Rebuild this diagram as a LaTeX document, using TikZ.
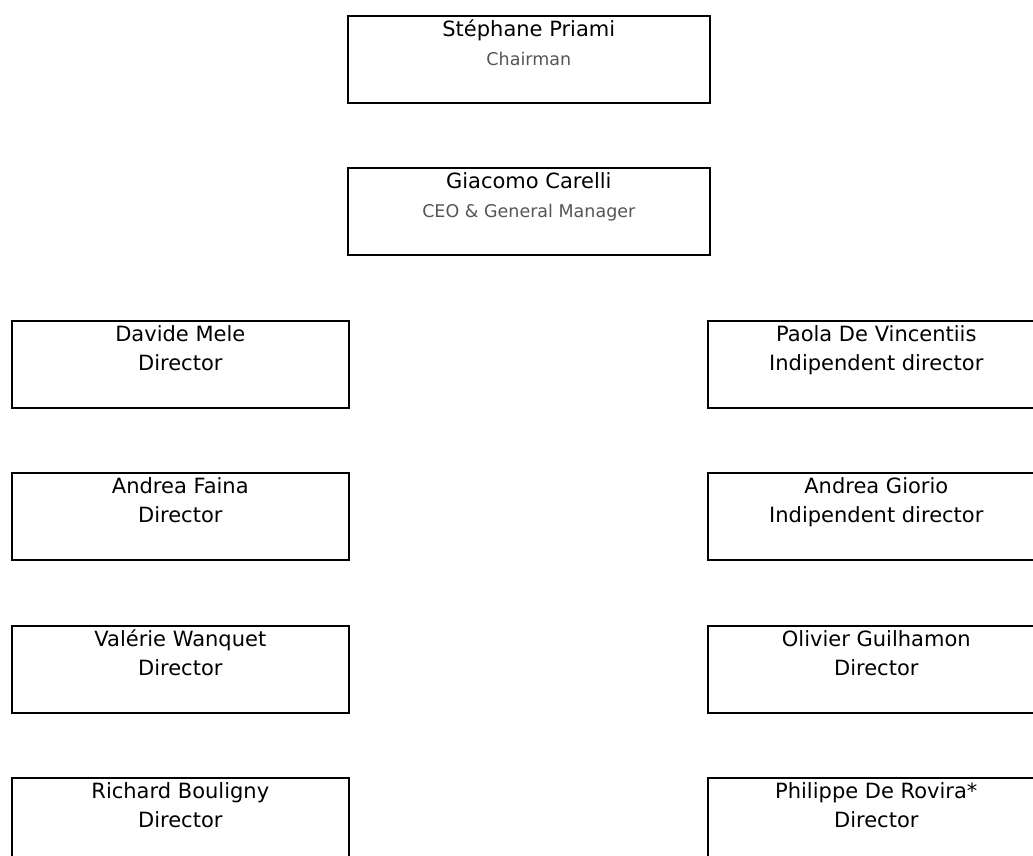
\documentclass[tikz,border=0pt]{standalone}
\usepackage{fontspec}
\setmainfont{DejaVu Sans}
\definecolor{titlegray}{RGB}{85,85,85}
\begin{document}
\begin{tikzpicture}[x=1pt,y=-1pt,
  box/.style={draw=black, line width=1.6pt, minimum width=337pt, minimum height=87pt, inner sep=0pt, anchor=north west},
  widebox/.style={box, minimum width=362pt},
  nametext/.style={anchor=base, inner sep=0pt, font=\fontsize{21}{25}\selectfont, text=black},
  roletext/.style={anchor=base, inner sep=0pt, font=\fontsize{21}{25}\selectfont, text=black},
  graytext/.style={anchor=base, inner sep=0pt, font=\fontsize{17.5}{21}\selectfont, text=titlegray}]
\useasboundingbox (0,0) rectangle (1033,855);
\clip (0,0) rectangle (1033,855);
% top boxes
\node[widebox] (chair) at (347,15) {};
\node[nametext] (chairN) at ([yshift=-21.5pt]chair.north) {Stéphane Priami};
\node[graytext] (chairR) at ([yshift=-50pt]chair.north) {Chairman};
\node[widebox] (ceo) at (347,167) {};
\node[nametext] (ceoN) at ([yshift=-21.5pt]ceo.north) {Giacomo Carelli};
\node[graytext] (ceoR) at ([yshift=-50pt]ceo.north) {CEO \& General Manager};
% left column
\node[box] (l1) at (11,320) {};
\node[nametext] (l1N) at ([yshift=-21.5pt]l1.north) {Davide Mele};
\node[roletext] (l1R) at ([yshift=-50pt]l1.north) {Director};
\node[box] (l2) at (11,472) {};
\node[nametext] (l2N) at ([yshift=-21.5pt]l2.north) {Andrea Faina};
\node[roletext] (l2R) at ([yshift=-50pt]l2.north) {Director};
\node[box] (l3) at (11,625) {};
\node[nametext] (l3N) at ([yshift=-21.5pt]l3.north) {Valérie Wanquet};
\node[roletext] (l3R) at ([yshift=-50pt]l3.north) {Director};
\node[box] (l4) at (11,777) {};
\node[nametext] (l4N) at ([yshift=-21.5pt]l4.north) {Richard Bouligny};
\node[roletext] (l4R) at ([yshift=-50pt]l4.north) {Director};
% right column
\node[box] (r1) at (707,320) {};
\node[nametext] (r1N) at ([yshift=-21.5pt]r1.north) {Paola De Vincentiis};
\node[roletext] (r1R) at ([yshift=-50pt]r1.north) {Indipendent director};
\node[box] (r2) at (707,472) {};
\node[nametext] (r2N) at ([yshift=-21.5pt]r2.north) {Andrea Giorio};
\node[roletext] (r2R) at ([yshift=-50pt]r2.north) {Indipendent director};
\node[box] (r3) at (707,625) {};
\node[nametext] (r3N) at ([yshift=-21.5pt]r3.north) {Olivier Guilhamon};
\node[roletext] (r3R) at ([yshift=-50pt]r3.north) {Director};
\node[box] (r4) at (707,777) {};
\node[nametext] (r4N) at ([yshift=-21.5pt]r4.north) {Philippe De Rovira*};
\node[roletext] (r4R) at ([yshift=-50pt]r4.north) {Director};
\end{tikzpicture}
\end{document}
